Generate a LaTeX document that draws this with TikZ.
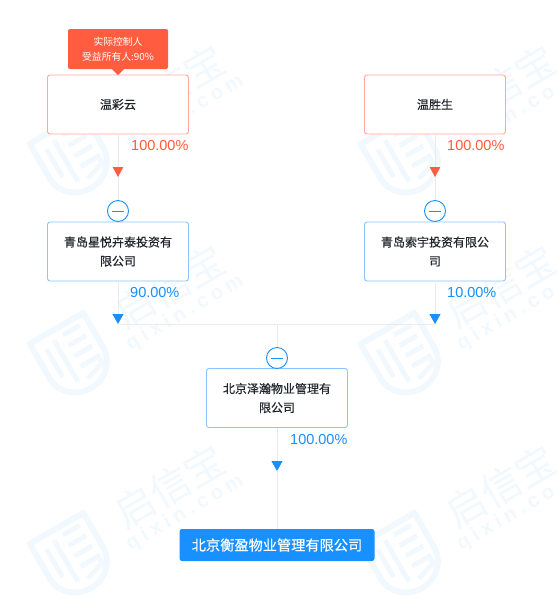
\documentclass[tikz,border=0pt]{standalone}
\usepackage{fontspec}
\usepackage{xcolor}
\usetikzlibrary{calc, arrows.meta, positioning}
\newfontfamily\cjk{Noto Sans CJK SC}
\newfontfamily\cjkmed[FakeBold=0.5]{Noto Sans CJK SC}
\newfontfamily\numfont{Liberation Sans}
\newfontfamily\markfont[LetterSpace=24]{Liberation Sans}
\definecolor{qxred}{HTML}{FF5C40}
\definecolor{qxredline}{HTML}{FFA999}
\definecolor{qxblue}{HTML}{1890FF}
\definecolor{qxblueline}{HTML}{8CC5FB}
\definecolor{qxgrey}{HTML}{E8ECEF}
\definecolor{qxtext}{HTML}{20262C}
\definecolor{qxmark}{HTML}{F2F9FE}
\tikzset{
  personbox/.style={draw=qxredline, line width=0.9pt, rounded corners=2.5pt, fill=white, minimum width=141pt, minimum height=59pt, align=center, text=qxtext, font=\fontsize{12}{19}\selectfont\cjkmed, inner sep=0pt},
  companybox/.style={personbox, draw=qxblueline},
  rootbox/.style={fill=qxblue, rounded corners=2.5pt, minimum width=195pt, minimum height=32pt, text=white, font=\fontsize{14.2}{18}\selectfont\cjkmed, inner sep=0pt},
  tagbox/.style={fill=qxred, rounded corners=2pt, minimum width=100pt, minimum height=40pt, align=center, text=white, font=\fontsize{9.8}{14.5}\selectfont\cjk, inner sep=0pt},
  foldmark/.style={circle, draw=qxblue, line width=0.9pt, fill=white, minimum size=21pt, inner sep=0pt},
  pctred/.style={text=qxred, font=\fontsize{14.5}{16}\selectfont\numfont, inner sep=0pt},
  pctblue/.style={pctred, text=qxblue},
  conn/.style={draw=qxgrey, line width=0.9pt},
  redtip/.style={conn, -{Triangle[color=qxred, length=10pt, width=10.5pt]}},
  bluetip/.style={conn, -{Triangle[color=qxblue, length=10pt, width=11pt]}},
  pics/qixinmark/.style={code={
    % shield
    \draw[qxmark, line width=6pt, line join=round] (-31,-33) -- (31,-33) -- (31,6) .. controls (31,24) and (16,36) .. (0,36) .. controls (-16,36) and (-31,24) .. (-31,6) -- cycle;
    \draw[qxmark, line width=5pt] (-19,-20) -- (-19,12) (-8,-24) -- (-8,24);
    \draw[qxmark, line width=5pt] (2,-24) -- (22,-24) (2,-12) -- (22,-12) (2,0) -- (22,0) (2,12) -- (22,12) -- (22,20) -- (2,26);
    % name
    \node[text=qxmark, font=\fontsize{40}{40}\selectfont\cjk, inner sep=0pt, rotate=30] (marktitle) at (119,-12.5) {启信宝};
    \node[text=qxmark, font=\fontsize{20}{20}\selectfont\bfseries\markfont, inner sep=0pt, rotate=30] (markurl) at (119,17.5) {qixin.com};
  }}
}

\begin{document}
\begin{tikzpicture}[x=1pt, y=-1pt]
  \useasboundingbox (0,0) rectangle (557,614);
  \fill[white] (0,0) rectangle (557,614);
  % watermark
  \foreach \mx in {73, 404}
    \foreach \my in {157, 357, 557}
      \pic[rotate=30] at (\mx,\my) {qixinmark};
  % owners
  \node[personbox] (wencai) at (118,104.5) {温彩云};
  \node[personbox] (wensheng) at (435,104.5) {温胜生};
  \node[tagbox] (tag) at (118,49) {实际控制人\\受益所有人:90\%};
  \fill[qxred] (112,69) -- (124,69) -- (118,75) -- cycle;
  % holding companies
  \node[companybox] (xingyue) at (118,251.5) {青岛星悦卉泰投资有\\限公司};
  \node[companybox] (suoyu) at (435,251.5) {青岛索宇投资有限公\\司};
  \node[companybox] (zehan) at (277,398) {北京泽瀚物业管理有\\限公司};
  \node[rootbox] (hengying) at (277,545) {北京衡盈物业管理有限公司};
  % tips and junctions
  \coordinate (tipa) at (118,177);
  \coordinate (tipb) at (435,177);
  \coordinate (tipc) at (118,324);
  \coordinate (tipd) at (435,324);
  \coordinate (tipe) at (277,471);
  \coordinate (join) at (277,324);
  % connectors
  \draw[conn] (tipa) -- (xingyue.north);
  \draw[conn] (tipb) -- (suoyu.north);
  \draw[conn] (tipe) -- (hengying.north);
  \draw[conn] (tipc) -- (tipd);
  \draw[conn] (join) -- (zehan.north);
  \draw[redtip] (wencai.south) -- (tipa);
  \draw[redtip] (wensheng.south) -- (tipb);
  \draw[bluetip] (xingyue.south) -- (tipc);
  \draw[bluetip] (suoyu.south) -- (tipd);
  \draw[bluetip] (zehan.south) -- (tipe);
  % fold marks
  \foreach \nm/\fx/\fy in {folda/118/211, foldb/435/211, foldc/277/358}{
    \node[foldmark] (\nm) at (\fx,\fy) {};
    \draw[qxblue, line width=0.9pt] ($(\nm)+(-6,0)$) -- ($(\nm)+(6,0)$);
  }
  % percentages
  \node[pctred, right] (pcta) at (131,146) {100.00\%};
  \node[pctred, right] (pctb) at (447,146) {100.00\%};
  \node[pctblue, right] (pctc) at (130,293) {90.00\%};
  \node[pctblue, right] (pctd) at (447,293) {10.00\%};
  \node[pctblue, right] (pcte) at (290,440) {100.00\%};
\end{tikzpicture}
\end{document}
